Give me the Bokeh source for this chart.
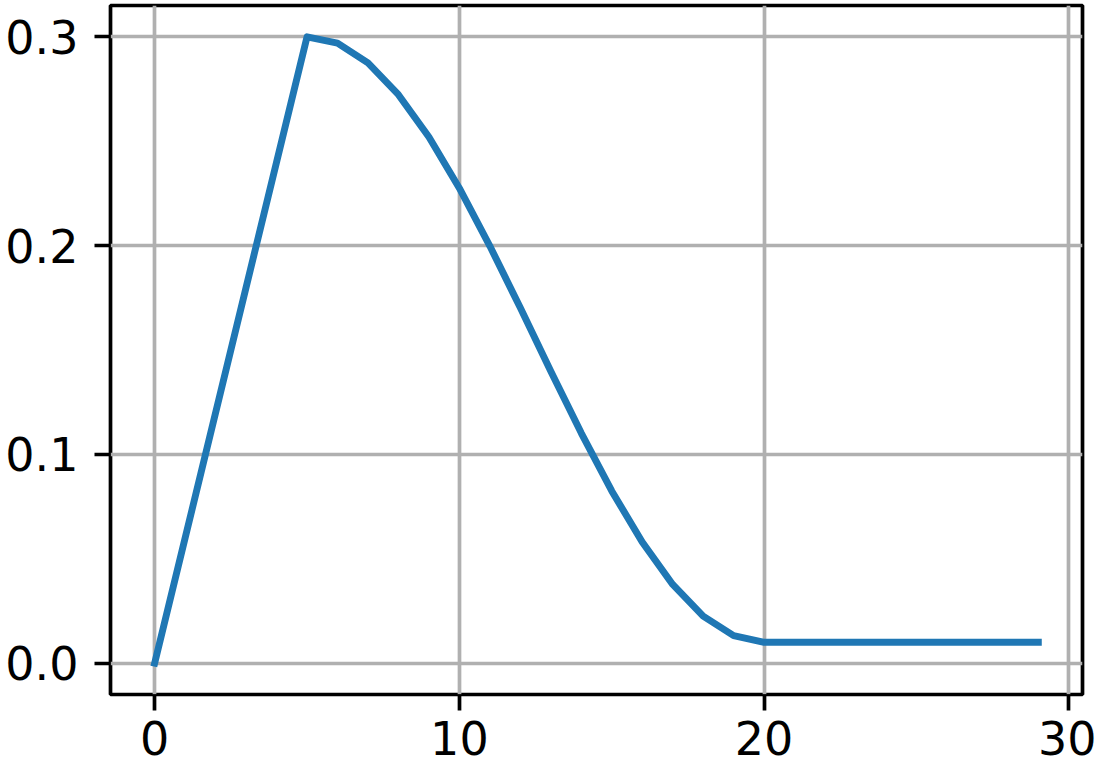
from bokeh.plotting import figure
from bokeh.models import Range1d, FixedTicker, CustomJSTickFormatter
from bokeh.embed import file_html
from bokeh.resources import INLINE

# data
epochs = list(range(30))
lr = [0.0, 0.06, 0.12, 0.18, 0.24, 0.30,
      0.297, 0.2875, 0.2723, 0.252, 0.2275, 0.1998, 0.1702, 0.1398, 0.1102,
      0.0825, 0.058, 0.0377, 0.0225, 0.0132, 0.01,
      0.01, 0.01, 0.01, 0.01, 0.01, 0.01, 0.01, 0.01, 0.01]
x_ticks = [0, 10, 20, 30]
y_ticks = [0.0, 0.1, 0.2, 0.3]

FONT = "DejaVu Sans"
FS = "46px"
LW = 3.7

p = figure(output_backend="svg", toolbar_location=None,
           frame_width=972, frame_height=689,
           min_border_left=110, min_border_right=14,
           min_border_top=5, min_border_bottom=71,
           x_range=Range1d(-1.45, 30.45), y_range=Range1d(-0.015, 0.315))
p.background_fill_color = "white"
p.border_fill_color = "white"
p.outline_line_color = "black"
p.outline_line_width = LW

p.line(epochs, lr, line_color="#1f77b4", line_width=6.9,
       line_cap="square", line_join="round")

for ax, ticks in ((p.xaxis[0], x_ticks), (p.yaxis[0], y_ticks)):
    ax.ticker = FixedTicker(ticks=ticks)
    ax.axis_line_color = None
    ax.major_tick_line_color = "black"
    ax.major_tick_line_width = LW
    ax.major_tick_out = 16
    ax.major_tick_in = 0
    ax.minor_tick_line_color = None
    ax.major_label_text_font = FONT
    ax.major_label_text_font_size = FS
    ax.major_label_text_color = "black"

p.xaxis[0].major_label_standoff = 10
p.yaxis[0].major_label_standoff = 16
p.yaxis[0].formatter = CustomJSTickFormatter(code="return tick.toFixed(1);")
p.xaxis[0].formatter = CustomJSTickFormatter(code="return tick.toFixed(0);")

p.xgrid[0].ticker = FixedTicker(ticks=x_ticks)
p.ygrid[0].ticker = FixedTicker(ticks=y_ticks)
for g in (p.xgrid[0], p.ygrid[0]):
    g.grid_line_color = "#b0b0b0"
    g.grid_line_width = LW

open("out.html", "w").write(file_html(p, INLINE))
